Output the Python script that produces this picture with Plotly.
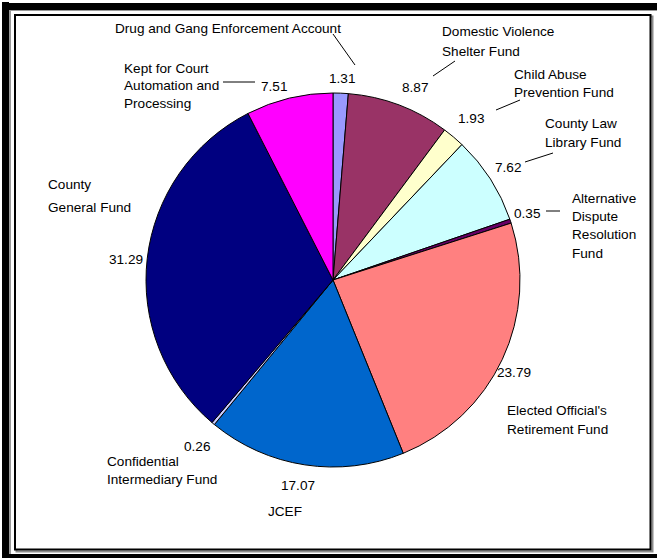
import plotly.graph_objects as go

# ---- data ----
categories = [
    "Drug and Gang Enforcement Account",
    "Domestic Violence<br>Shelter Fund",
    "Child Abuse<br>Prevention Fund",
    "County Law<br>Library Fund",
    "Alternative<br>Dispute<br>Resolution<br>Fund",
    "Elected Official's<br>Retirement Fund",
    "JCEF",
    "Confidential<br>Intermediary Fund",
    "County<br>General Fund",
    "Kept for Court<br>Automation and<br>Processing",
]
values = [1.31, 8.87, 1.93, 7.62, 0.35, 23.79, 17.07, 0.26, 31.29, 7.51]
colors = ["#9999FF", "#993366", "#FFFFCC", "#CCFFFF", "#660066",
          "#FF8080", "#0066CC", "#CCCCFF", "#000080", "#FF00FF"]

# ---- layout (pixel positions of labels) ----
W, H = 657, 558
CX, CY, R = 333, 280, 187
# category label: (x, y of first line, xanchor, line spacing)
cat_pos = [
    (228, 28, "center", 19),
    (440, 32, "left", 19),
    (512, 74, "left", 19),
    (543, 123, "left", 19),
    (570, 198, "left", 18.5),
    (505, 410, "left", 20),
    (285, 511, "center", 19),
    (105, 461, "left", 18),
    (46, 184, "left", 23),
    (122, 68, "left", 17.5),
]
# value label centres
val_pos = [
    (342, 79), (415, 88), (471, 118), (508, 167), (527, 213),
    (514, 372), (298, 485), (197, 446), (126, 259), (274, 86),
]
# leader lines
leaders = [
    (333, 34, 355, 65),
    (433, 76, 455, 61),
    (496, 110, 520, 100),
    (525, 162, 553, 153),
    (546, 211, 560, 211),
    (223, 82, 255, 82),
]

def px(x):
    return x / W

def py(y):
    return 1 - y / H

FONT = dict(family="Liberation Sans, Arial, sans-serif", size=13.6, color="black")

fig = go.Figure(go.Pie(
    labels=[c.replace("<br>", " ") for c in categories],
    values=values,
    sort=False,
    direction="clockwise",
    rotation=0,
    marker=dict(colors=colors, line=dict(color="black", width=1)),
    textinfo="none",
    hoverinfo="label+value",
    domain=dict(x=[px(CX - R), px(CX + R)], y=[py(CY + R), py(CY - R)]),
    showlegend=False,
))

ann = []
for cat, (x, y, xa, sp) in zip(categories, cat_pos):
    for i, line in enumerate(cat.split("<br>")):
        ann.append(dict(x=px(x), y=py(y + i * sp), xref="paper", yref="paper",
                        text=line, showarrow=False, xanchor=xa, yanchor="middle",
                        font=FONT))
for v, (x, y) in zip(values, val_pos):
    ann.append(dict(x=px(x), y=py(y), xref="paper", yref="paper",
                    text=f"{v:.2f}", showarrow=False, xanchor="center",
                    yanchor="middle", font=FONT))

shapes = []
def rect(x0, y0, x1, y1, fill=None, line=None, lw=0):
    return dict(type="rect", xref="paper", yref="paper", layer="below",
                x0=px(x0), x1=px(x1), y0=py(y1), y1=py(y0),
                fillcolor=fill if fill else "rgba(0,0,0,0)",
                line=dict(color=line if line else "rgba(0,0,0,0)", width=lw))

# outer thick border
shapes.append(rect(9, 9.5, 11, 558, fill="#999999"))
shapes.append(rect(9, 9.5, 657, 11, fill="#999999"))
shapes.append(rect(2, 2, 9, 558, fill="black"))
shapes.append(rect(2, 3, 657, 10, fill="black"))
shapes.append(rect(2, 554, 657, 558, fill="black"))
# inner frame with shadow
shapes.append(rect(16.5, 16.5, 652.5, 551.5, line="#8c8c8c", lw=2))
shapes.append(rect(15, 15, 650.5, 549.5, fill="white", line="black", lw=2))
for (x0, y0, x1, y1) in leaders:
    shapes.append(dict(type="line", xref="paper", yref="paper",
                       x0=px(x0), y0=py(y0), x1=px(x1), y1=py(y1),
                       line=dict(color="black", width=1)))

fig.update_layout(
    width=W, height=H,
    margin=dict(l=0, r=0, t=0, b=0),
    paper_bgcolor="white",
    plot_bgcolor="white",
    annotations=ann,
    shapes=shapes,
)

fig.write_html("out.html")
